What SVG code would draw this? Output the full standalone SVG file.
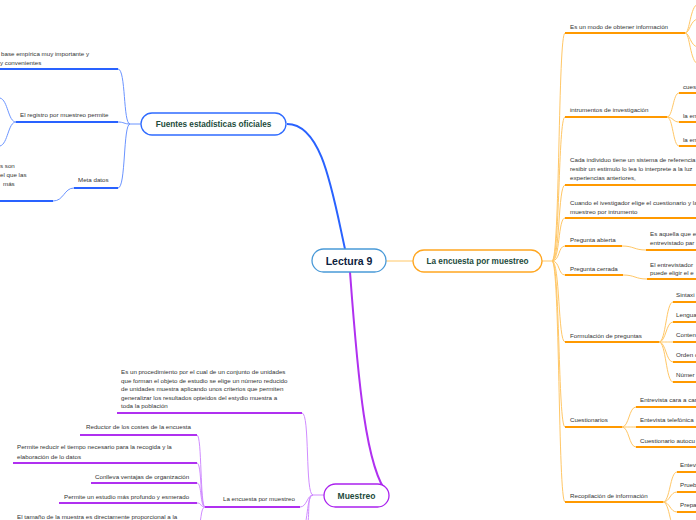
<svg xmlns="http://www.w3.org/2000/svg" width="696" height="520" viewBox="0 0 696 520">
<style>
.t{font-family:"Liberation Sans",Arial,sans-serif;font-size:6.2px;fill:#333}
.nb{font-family:"Liberation Sans",Arial,sans-serif;font-weight:bold;fill:#1d4b3c;text-anchor:middle}
.box{fill:#fff;stroke-width:1.3}
.ob{stroke:#ff9900;stroke-width:2;fill:none}
.oc{stroke:#ffc766;stroke-width:1;fill:none}
.bb{stroke:#2962ff;stroke-width:2;fill:none}
.bc{stroke:#6b94ff;stroke-width:1;fill:none}
.pb{stroke:#b030f0;stroke-width:2;fill:none}
.pc{stroke:#d08cff;stroke-width:1;fill:none}
</style>
<rect width="696" height="520" fill="#fff"/>
<g id="connectors">
<path class="bb" d="M345,249 C332,190 322,124 287,124"/>
<path class="pb" d="M350,272 C358,380 366,470 388,494"/>
<path class="oc" d="M386,261 H413"/>
<path class="bc" d="M141,124 H130"/>
<path class="bc" d="M130,124 C123,124 126,69 118,69"/>
<path class="bc" d="M130,124 C124,124 124,122 118,122"/>
<path class="bc" d="M130,124 C123,124 126,188 118,188"/>
<path class="bc" d="M74,188 C64,188 64,201 53,201"/>
<path class="bc" d="M16,122 C8,122 8,100 0,98"/>
<path class="bc" d="M16,122 C8,122 8,144 0,146"/>
<path class="oc" d="M542,261 H552"/>
<path class="oc" d="M552,261 C560,261 558,33 565,33"/>
<path class="oc" d="M552,261 C560,261 558,117 565,117"/>
<path class="oc" d="M552,261 C560,261 558,185 565,185"/>
<path class="oc" d="M552,261 C560,261 558,218 565,218"/>
<path class="oc" d="M552,261 C560,261 558,246 565,246"/>
<path class="oc" d="M552,261 C560,261 558,275 565,275"/>
<path class="oc" d="M552,261 C560,261 558,342 565,342"/>
<path class="oc" d="M552,261 C560,261 558,427 565,427"/>
<path class="oc" d="M552,261 C560,261 558,502 565,502"/>
<path class="oc" d="M685,33 C690,33 690,6 698,4"/>
<path class="oc" d="M685,33 C690,33 690,20 698,19"/>
<path class="oc" d="M685,33 C690,33 690,46 698,47"/>
<path class="oc" d="M685,33 C690,33 690,62 698,64"/>
<path class="oc" d="M667,117 C673,117 673,93 679,93"/>
<path class="oc" d="M667,117 C673,117 673,122 679,122"/>
<path class="oc" d="M667,117 C673,117 673,146 679,146"/>
<path class="oc" d="M622,246 C634,246 634,250 646,250"/>
<path class="oc" d="M623,275 C635,275 635,279 647,279"/>
<path class="oc" d="M659,342 C666,342 666,302 673,302"/>
<path class="oc" d="M659,342 C666,342 666,322 673,322"/>
<path class="oc" d="M659,342 C666,342 666,342 673,342"/>
<path class="oc" d="M659,342 C666,342 666,362 673,362"/>
<path class="oc" d="M659,342 C666,342 666,382 673,382"/>
<path class="oc" d="M622,427 C629,427 629,407 636,407"/>
<path class="oc" d="M622,427 C629,427 629,427 636,427"/>
<path class="oc" d="M622,427 C629,427 629,447 636,447"/>
<path class="oc" d="M663,502 C670,502 670,472 677,472"/>
<path class="oc" d="M663,502 C670,502 670,492 677,492"/>
<path class="oc" d="M663,502 C670,502 670,512 677,512"/>
<path class="oc" d="M663,502 C670,502 670,532 677,532"/>
<path class="pc" d="M324,495 H313"/>
<path class="pc" d="M313,495 C305,495 310,413 302,413"/>
<path class="pc" d="M313,495 C307,495 307,507 300,507"/>
<path class="pc" d="M313,495 C306,495 311,520 306,530"/>
<path class="pc" d="M313,495 C306,495 309,525 300,540"/>
<path class="pc" d="M205,507 C200,507 202,435 197,435"/>
<path class="pc" d="M205,507 C200,507 202,463 197,463"/>
<path class="pc" d="M205,507 C200,507 202,483 197,483"/>
<path class="pc" d="M205,507 C200,507 202,503 197,503"/>
<path class="pc" d="M205,507 C200,507 202,525 197,530"/>
</g>
<g id="lectura9">
<rect class="box" x="312" y="249" width="74" height="23" rx="11.5" stroke="#4a9ad8"/>
<text class="nb" x="349" y="264.5" font-size="10.5" fill="#0d2240" style="fill:#0d2240">Lectura 9</text>
</g>
<g id="fuentes">
<rect class="box" x="141" y="113" width="145" height="22" rx="11" stroke="#2f6bff"/>
<text class="nb" x="213.5" y="127" font-size="8.2">Fuentes estadísticas oficiales</text>
</g>
<g id="encuesta">
<rect class="box" x="413" y="250" width="129" height="22" rx="11" stroke="#ffa620"/>
<text class="nb" x="477.5" y="264" font-size="8.2">La encuesta por muestreo</text>
</g>
<g id="muestreo">
<rect class="box" x="324" y="484" width="65" height="23" rx="11.5" stroke="#aa22ee"/>
<text class="nb" x="356.5" y="498.5" font-size="8.5">Muestreo</text>
</g>
<g id="f-base">
<text class="t" x="1" y="56">base empírica muy importante y</text>
<text class="t" x="0" y="65">y convenientes</text>
<path class="bb" d="M0,69 H118"/>
</g>
<g id="f-registro">
<text class="t" x="20" y="117">El registro por muestreo permite</text>
<path class="bb" d="M16,122 H118"/>
</g>
<g id="f-meta">
<text class="t" x="78" y="182">Meta datos</text>
<path class="bb" d="M74,188 H118"/>
</g>
<g id="f-meta-child">
<text class="t" x="0" y="168">s son</text>
<text class="t" x="0" y="177">el que las</text>
<text class="t" x="3" y="186">más</text>
<path class="bb" d="M0,201 H53"/>
</g>
<g id="e-modo">
<text class="t" x="570" y="29">Es un modo de obtener información</text>
<path class="ob" d="M565,33 H685"/>
</g>
<g id="e-instrumentos">
<text class="t" x="570" y="112">intrumentos de investigación</text>
<path class="ob" d="M565,117 H667"/>
</g>
<g id="e-cues"><text class="t" x="683" y="89">cues</text><path class="ob" d="M679,93 H696"/></g>
<g id="e-laen1"><text class="t" x="683" y="118">la en</text><path class="ob" d="M679,122 H696"/></g>
<g id="e-laen2"><text class="t" x="683" y="142">la en</text><path class="ob" d="M679,146 H696"/></g>
<g id="e-cada">
<text class="t" x="570" y="162">Cada individuo tiene un sistema de referencia</text>
<text class="t" x="570" y="171">resibir un estimulo lo lea lo interprete a la luz</text>
<text class="t" x="570" y="180">experiencias anteriores,</text>
<path class="ob" d="M565,185 H696"/>
</g>
<g id="e-cuando">
<text class="t" x="570" y="205">Cuando el ivestigador elige el cuestionario y la</text>
<text class="t" x="570" y="213.5">muestreo por intrumento</text>
<path class="ob" d="M565,218 H696"/>
</g>
<g id="e-abierta">
<text class="t" x="570" y="241.5">Pregunta abierta</text>
<path class="ob" d="M565,246 H622"/>
</g>
<g id="e-abierta-def">
<text class="t" x="650" y="236">Es aquella que el</text>
<text class="t" x="650" y="245">entrevistado par</text>
<path class="ob" d="M646,250 H696"/>
</g>
<g id="e-cerrada">
<text class="t" x="570" y="270.5">Pregunta cerrada</text>
<path class="ob" d="M565,275 H623"/>
</g>
<g id="e-cerrada-def">
<text class="t" x="650" y="267">El entrevistador</text>
<text class="t" x="650" y="275">puede eligir el e</text>
<path class="ob" d="M647,279 H696"/>
</g>
<g id="e-formulacion">
<text class="t" x="570" y="337.5">Formulación de preguntas</text>
<path class="ob" d="M565,342 H659"/>
</g>
<g id="e-sintaxis"><text class="t" x="676" y="297">Sintaxi</text><path class="ob" d="M673,302 H696"/></g>
<g id="e-lenguaje"><text class="t" x="676" y="317">Lengua</text><path class="ob" d="M673,322 H696"/></g>
<g id="e-contenido"><text class="t" x="676" y="337">Conten</text><path class="ob" d="M673,342 H696"/></g>
<g id="e-orden"><text class="t" x="676" y="357">Orden d</text><path class="ob" d="M673,362 H696"/></g>
<g id="e-numero"><text class="t" x="676" y="377">Númer</text><path class="ob" d="M673,382 H696"/></g>
<g id="e-cuestionarios">
<text class="t" x="570" y="422">Cuestionarios</text>
<path class="ob" d="M565,427 H622"/>
</g>
<g id="e-cara"><text class="t" x="640" y="402">Entrevista cara a car</text><path class="ob" d="M636,407 H696"/></g>
<g id="e-telefonica"><text class="t" x="640" y="422">Entevista telefónica</text><path class="ob" d="M636,427 H696"/></g>
<g id="e-autocu"><text class="t" x="640" y="442.5">Cuestionario autocu</text><path class="ob" d="M636,447 H696"/></g>
<g id="e-recopilacion">
<text class="t" x="570" y="497.5">Recopilación de información</text>
<path class="ob" d="M565,502 H663"/>
</g>
<g id="e-entevi"><text class="t" x="680" y="467">Entevi</text><path class="ob" d="M677,472 H696"/></g>
<g id="e-prueba"><text class="t" x="680" y="487">Prueb</text><path class="ob" d="M677,492 H696"/></g>
<g id="e-prepa"><text class="t" x="680" y="507">Prepa</text><path class="ob" d="M677,512 H696"/></g>
<g id="m-procedimiento">
<text class="t" x="121" y="374">Es un procedimiento por el cual de un conjunto de unidades</text>
<text class="t" x="121" y="382.5">que forman el objeto de estudio se elige un número reducido</text>
<text class="t" x="121" y="391">de unidades muestra aplicando unos criterios que permiten</text>
<text class="t" x="121" y="399.5">generalizar los resultados opteidos del estydio muestra a</text>
<text class="t" x="121" y="408">toda la población</text>
<path class="pb" d="M117,413 H302"/>
</g>
<g id="m-encuesta">
<text class="t" x="223" y="501">La encuesta por muestreo</text>
<path class="pb" d="M205,507 H300"/>
</g>
<g id="m-reductor">
<text class="t" x="86" y="429">Reductor de los costes de la encuesta</text>
<path class="pb" d="M80,435 H197"/>
</g>
<g id="m-tiempo">
<text class="t" x="17" y="449">Permite reducir el tiempo necesario para la recogida y la</text>
<text class="t" x="17" y="458.5">elaboración de lo datos</text>
<path class="pb" d="M13,463 H197"/>
</g>
<g id="m-ventajas">
<text class="t" x="95" y="479">Conlleva ventajas de organización</text>
<path class="pb" d="M91,483 H197"/>
</g>
<g id="m-estudio">
<text class="t" x="64" y="499">Permite un estudio más profundo y esmerado</text>
<path class="pb" d="M59,503 H197"/>
</g>
<g id="m-tamano">
<text class="t" x="17" y="519">El tamaño de la muestra es directamente proporcional a la</text>
</g>
</svg>
